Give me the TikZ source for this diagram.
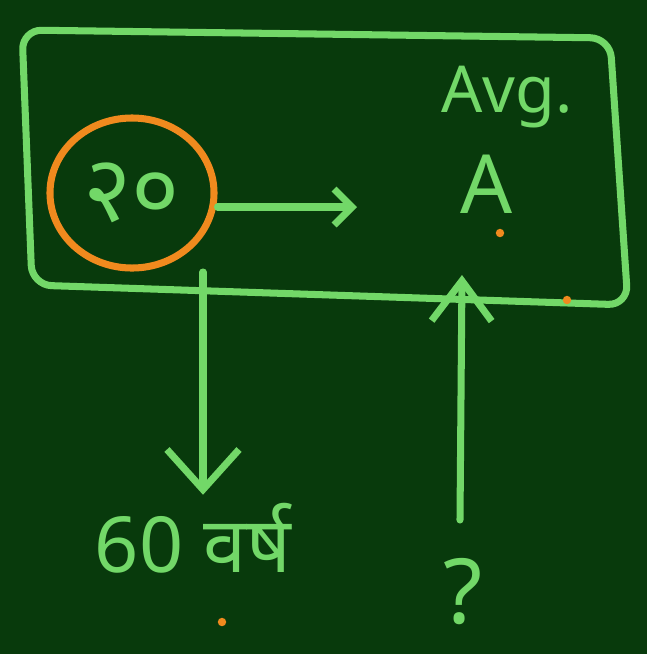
\documentclass[tikz,border=0pt]{standalone}
\usepackage{fontspec}
\setmainfont{Noto Sans}
\newfontfamily\devfont[Script=Devanagari]{Noto Sans}
\usetikzlibrary{positioning, arrows.meta, shapes.geometric}
\definecolor{board}{HTML}{083A0C}
\definecolor{chalk}{HTML}{72D868}
\definecolor{marker}{HTML}{F08A1E}

\begin{document}
\begin{tikzpicture}[x=0.025cm, y=-0.025cm, line width=5pt, line cap=round, line join=round]
  \fill[board] (0,0) rectangle (647,654);
  \useasboundingbox (0,0) rectangle (647,654);

  % box round the formula
  \draw[chalk, rounded corners=14pt] (22,30) -- (610,38) -- (628,305) -- (32,285) -- cycle;

  \node[ellipse, draw=marker, minimum width=4.1cm, minimum height=3.75cm, inner sep=0pt, text=chalk, font=\devfont\fontsize{66}{66}\selectfont] (age) at (132,193) {२०};
  \node[text=chalk, font=\fontsize{46}{46}\selectfont] (avg) at (507,97) {Avg.};
  \node[text=chalk, font=\fontsize{58}{58}\selectfont] (mean) at (487,184) {A};
  \node[text=chalk, font=\devfont\fontsize{55}{55}\selectfont] (years) at (193,538) {60 वर्ष};
  \node[text=chalk, font=\fontsize{64}{64}\selectfont] (ask) at (463,592) {?};

  \draw[-{Straight Barb[length=0.45cm, width=0.9cm]}, chalk] (age.east) ++(0,14) coordinate (from) -- (from -| 357,0) coordinate (to);
  \draw[-{Straight Barb[length=1.0cm, width=1.8cm]}, chalk] (203,272) coordinate (drop) -- (years.north -| drop);
  \draw[-{Straight Barb[length=1.0cm, width=1.5cm]}, chalk] (460,520) coordinate (rise) -- (462,275) coordinate (tip);

  \fill[marker] (500,233) circle (3pt) (567,300) circle (3pt) (222,622) circle (3pt);
\end{tikzpicture}
\end{document}
